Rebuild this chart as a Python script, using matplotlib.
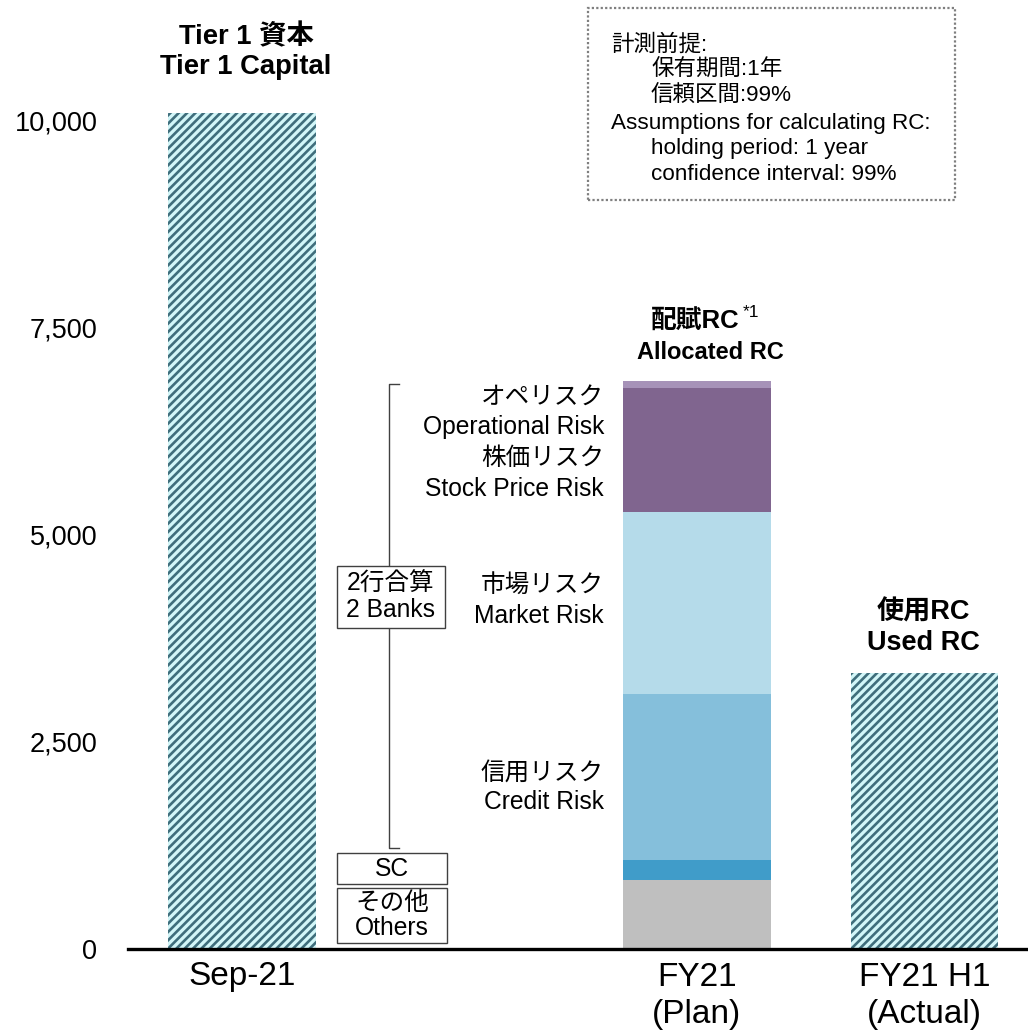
import matplotlib
matplotlib.use("Agg")
import matplotlib.pyplot as plt
from matplotlib.patches import Rectangle
from matplotlib.ticker import FuncFormatter

plt.rcParams['font.family'] = ['Liberation Sans', 'Noto Sans CJK JP']
plt.rcParams['hatch.linewidth'] = 1.9

# ---- data ----
categories = ['Sep-21', 'FY21\n(Plan)', 'FY21 H1\n(Actual)']
tier1_capital = 10100
used_rc = 3330
alloc_segments = ['その他 Others', 'SC', '信用リスク Credit Risk', '市場リスク Market Risk',
                  '株価リスク Stock Price Risk', 'オペリスク Operational Risk']
alloc_values = [830, 250, 2000, 2200, 1500, 85]
alloc_colors = ['#bfbfbf', '#409cc9', '#85bfdb', '#b5dbea', '#80658f', '#a692b8']
yticks = [0, 2500, 5000, 7500, 10000]

W, H = 1028, 1033
fig = plt.figure(figsize=(W / 100, H / 100), dpi=100)
ax = fig.add_axes([128 / W, 84 / H, 1 - 128 / W, 1 - 84 / H])

xpos = [0, 2, 3]
bw = 0.65
hatch_face = '#d2f6f8'
hatch_line = '#3f6e7c'

ax.bar(xpos[0], tier1_capital, width=bw, facecolor=hatch_face, edgecolor=hatch_line,
       hatch='////', linewidth=0)
ax.bar(xpos[2], used_rc, width=bw, facecolor=hatch_face, edgecolor=hatch_line,
       hatch='////', linewidth=0)
bottom = 0
for v, c in zip(alloc_values, alloc_colors):
    ax.bar(xpos[1], v, bottom=bottom, width=bw, color=c, linewidth=0)
    bottom += v

ax.set_xlim(-0.501, 3.455)
ax.set_ylim(0, 11461)
ax.set_xticks(xpos)
ax.set_xticklabels(categories, fontsize=24, linespacing=1.28)
ax.set_yticks(yticks)
ax.yaxis.set_major_formatter(FuncFormatter(lambda v, p: f'{int(v):,}'))
ax.tick_params(axis='y', length=0, pad=22, labelsize=19.5)
ax.tick_params(axis='x', length=0, pad=9)
for s in ['left', 'right', 'top']:
    ax.spines[s].set_visible(False)
ax.spines['bottom'].set_linewidth(2.4)
ax.spines['bottom'].set_color('black')


def px2d(px, py):
    return (px - 242) / 227.5, (949 - py) / 0.0828


# titles above bars
x, y = px2d(246, 52)
ax.text(x, y, 'Tier 1 資本\nTier 1 Capital', ha='center', va='center', fontsize=19.7,
        fontweight='bold', linespacing=1.2)
x, y = px2d(923, 628)
ax.text(x, y, '使用RC\nUsed RC', ha='center', va='center', fontsize=19.5,
        fontweight='bold', linespacing=1.2)
x, y = px2d(695, 322)
ax.text(x, y, '配賦RC', ha='center', va='center', fontsize=18.5, fontweight='bold')
x, y = px2d(751, 313)
ax.text(x, y, '*1', ha='center', va='center', fontsize=12.5)
x, y = px2d(710, 353)
ax.text(x, y, 'Allocated RC', ha='center', va='center', fontsize=17, fontweight='bold')

# segment labels
lab = [('オペリスク', 397), ('Operational Risk', 427), ('株価リスク', 458),
       ('Stock Price Risk', 489), ('市場リスク', 585), ('Market Risk', 616),
       ('信用リスク', 773), ('Credit Risk', 802)]
for t, py in lab:
    x, y = px2d(604, py)
    ax.text(x, y, t, ha='right', va='center', fontsize=17.7)

# bracket
xb, yt = px2d(389, 384)
_, ybot = px2d(389, 848)
xt, _ = px2d(399, 384)
ax.plot([xt, xb, xb, xt], [yt, yt, ybot, ybot], color='#404040', lw=1.0, zorder=1)

# 2 banks box + SC / Others boxes
for (x0, y0, x1, y1), txt, ls in [((337, 566, 445, 628), '2行合算\n2 Banks', 1.15),
                                  ((337, 853, 447, 884), 'SC', 1.0),
                                  ((337, 888, 447, 943), 'その他\nOthers', 1.05)]:
    fig.patches.append(Rectangle((x0 / W, 1 - y1 / H), (x1 - x0) / W, (y1 - y0) / H,
                                 transform=fig.transFigure, facecolor='white',
                                 edgecolor='#404040', linewidth=1.0, zorder=3))
    fig.text((x0 + x1) / 2 / W, 1 - (y0 + y1) / 2 / H, txt, ha='center', va='center',
             fontsize=17.7, linespacing=ls, zorder=4)

# info box
fig.patches.append(Rectangle((588 / W, 1 - 200 / H), (955 - 588) / W, (200 - 8) / H,
                             transform=fig.transFigure, facecolor='none',
                             edgecolor='#7f7f7f', linewidth=1.6, linestyle=(0, (1, 1))))
info = [('計測前提:', 611, 45), ('保有期間:1年', 651, 70), ('信頼区間:99%', 651, 96),
        ('Assumptions for calculating RC:', 611, 123), ('holding period: 1 year', 651, 148),
        ('confidence interval: 99%', 651, 174)]
for t, px, py in info:
    fig.text(px / W, 1 - py / H, t, ha='left', va='center', fontsize=16.2)

fig.savefig('out.png', dpi=100)
